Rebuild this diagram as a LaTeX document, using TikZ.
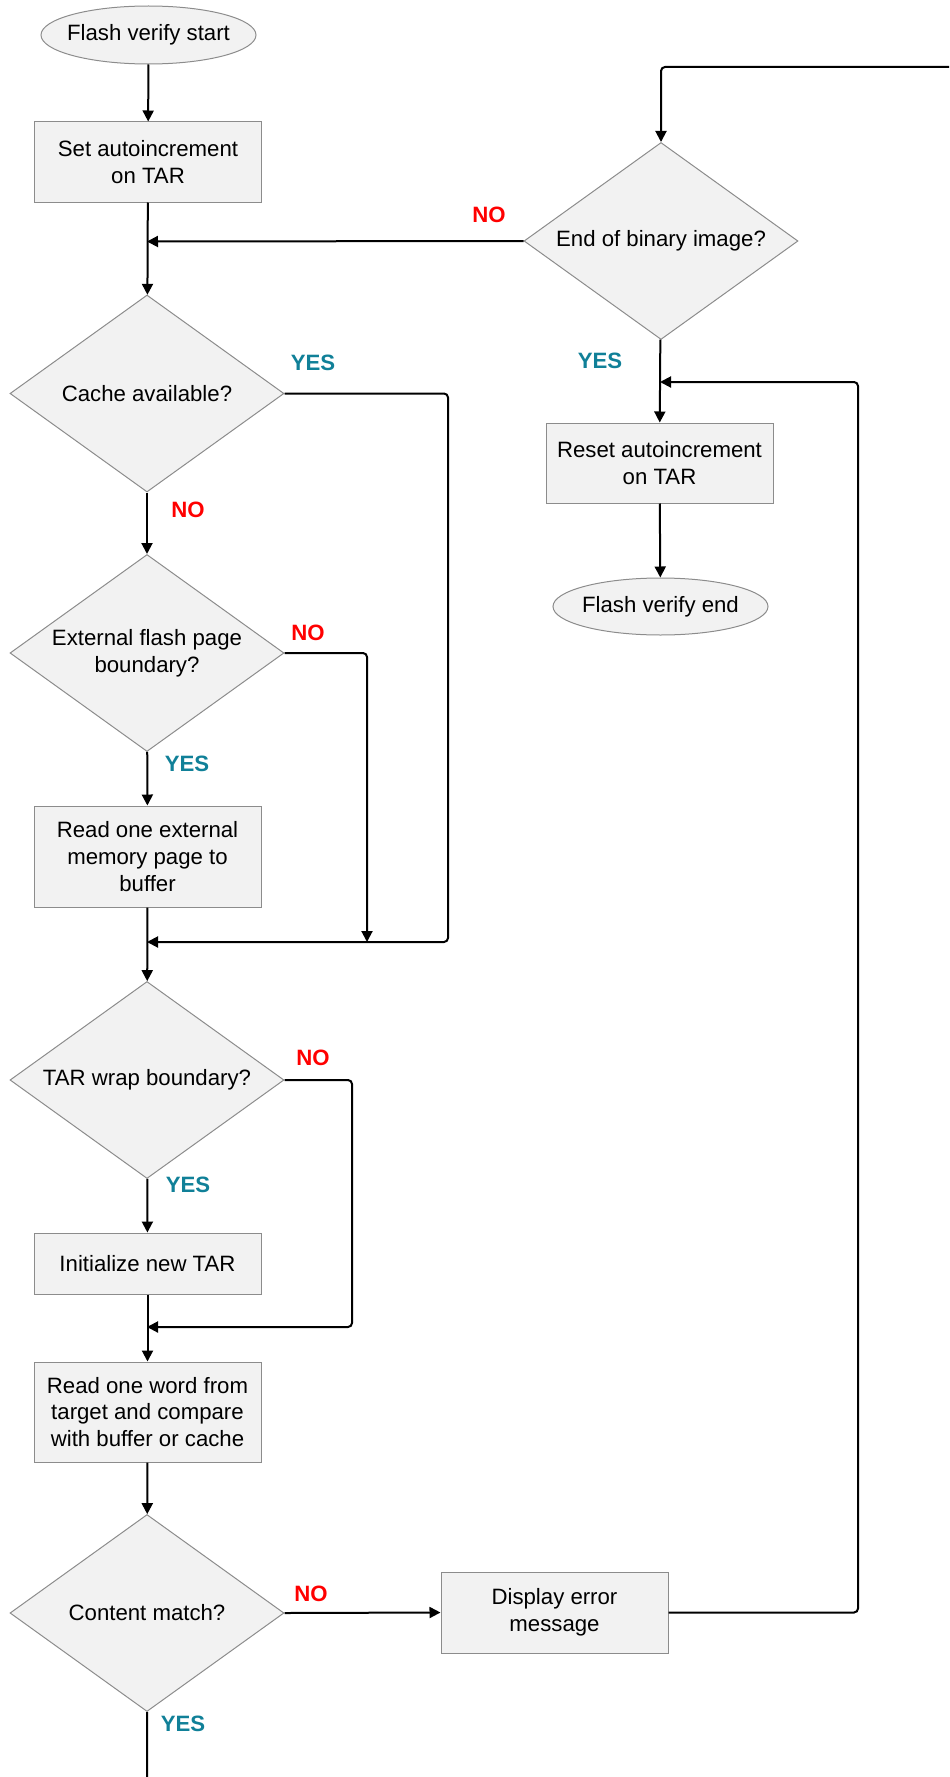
\documentclass[tikz,border=0pt]{standalone}
\usepackage{fontspec}
\setmainfont{Liberation Sans}
\usetikzlibrary{shapes.geometric,arrows.meta}
\definecolor{boxfill}{HTML}{F2F2F2}
\definecolor{boxline}{HTML}{8C8C8C}
\definecolor{yescol}{RGB}{16,128,152}
\definecolor{nocol}{RGB}{255,0,0}
\tikzstyle{every node}=[font=\fontsize{11.1}{13.35}\selectfont,align=center]
\tikzstyle{term}=[ellipse,draw=boxline,fill=boxfill,line width=0.5pt,minimum width=107.5pt,minimum height=29pt,inner xsep=-4pt,inner ysep=0pt]
\tikzstyle{proc}=[rectangle,sharp corners,draw=boxline,fill=boxfill,line width=0.5pt,minimum width=113.5pt,inner sep=0pt]
\tikzstyle{test}=[diamond,sharp corners,aspect=1.39,draw=boxline,fill=boxfill,line width=0.5pt,minimum width=137pt,minimum height=98.5pt,inner sep=0pt]
\tikzstyle{yes}=[text=yescol,font=\fontsize{11.1}{13.35}\selectfont\bfseries]
\tikzstyle{no}=[text=nocol,font=\fontsize{11.1}{13.35}\selectfont\bfseries]

\begin{document}
\begin{tikzpicture}[x=0.5pt,y=-0.5pt,
          >={Triangle[length=5.5pt,width=5.5pt]},
          line width=1pt,rounded corners=2pt]
          \clip (0,0) rectangle (949,1777);

          % left column
          \node[term] (1) at (148.5,35) {Flash verify start};
          \node[proc,minimum height=40pt] (2) at (148,162) {Set autoincrement\\on TAR};
          \node[test] (3) at (147,393.5) {Cache available?};
          \node[test] (4) at (147,653) {External flash page\\boundary?};
          \node[proc,minimum height=50.5pt] (5) at (147.5,856.5) {Read one external\\memory page to\\buffer};
          \node[test] (6) at (147,1080) {TAR wrap boundary?};
          \node[proc,minimum height=30.5pt] (7) at (147.5,1263.5) {Initialize new TAR};
          \node[proc,minimum height=50pt] (8) at (147.5,1412) {Read one word from\\target and compare\\with buffer or cache};
          \node[test] (9) at (147,1613) {Content match?};
          \node[proc,minimum height=40.5pt] (10) at (554.5,1612.5) {Display error\\message};

          % right column
          \node[test] (11) at (661,241) {End of binary image?};
          \node[proc,minimum height=40pt] (12) at (659.5,463) {Reset autoincrement\\on TAR};
          \node[term,minimum height=28.5pt] (13) at (660.5,606.5) {Flash verify end};

          \coordinate (j1) at (147,241.5);
          \coordinate (j2) at (147,942);
          \coordinate (j3) at (147,1327);
          \coordinate (j4) at (660,382);

          \draw[->] (1) -- (2);
          \draw[->] (2) -- (3);
          \draw[->] (11.west) -- (j1);
          \draw[->] (3) -- (4);
          \draw[->] (3.east) -- (448,393.5) -- (448,942) -- (j2);
          \draw[->] (4.east) -- (367,653) -- (367,942);
          \draw[->] (4) -- (5);
          \draw[->] (5) -- (6);
          \draw[->] (6.east) -- (352,1080) -- (352,1327) -- (j3);
          \draw[->] (6) -- (7);
          \draw[->] (7) -- (8);
          \draw[->] (8) -- (9);
          \draw[->] (9.east) -- (10.west);
          \draw[->] (10.east) -- (858,1612.5) -- (858,382) -- (j4);
          \draw[->] (11) -- (12);
          \draw[->] (12) -- (13);
          \draw[->] (9.south) -- (147,1790) -- (970,1790) -- (970,67) -- (661,67) -- (11.north);

          % branch labels
          \node[no] at (489,215) {NO};
          \node[yes] at (313,363) {YES};
          \node[no] at (188,510) {NO};
          \node[no] at (308,633) {NO};
          \node[yes] at (187,764) {YES};
          \node[no] at (313,1058) {NO};
          \node[yes] at (188,1185) {YES};
          \node[no] at (311,1594) {NO};
          \node[yes] at (183,1724) {YES};
          \node[yes] at (600,361) {YES};
        \end{tikzpicture}
\end{document}
